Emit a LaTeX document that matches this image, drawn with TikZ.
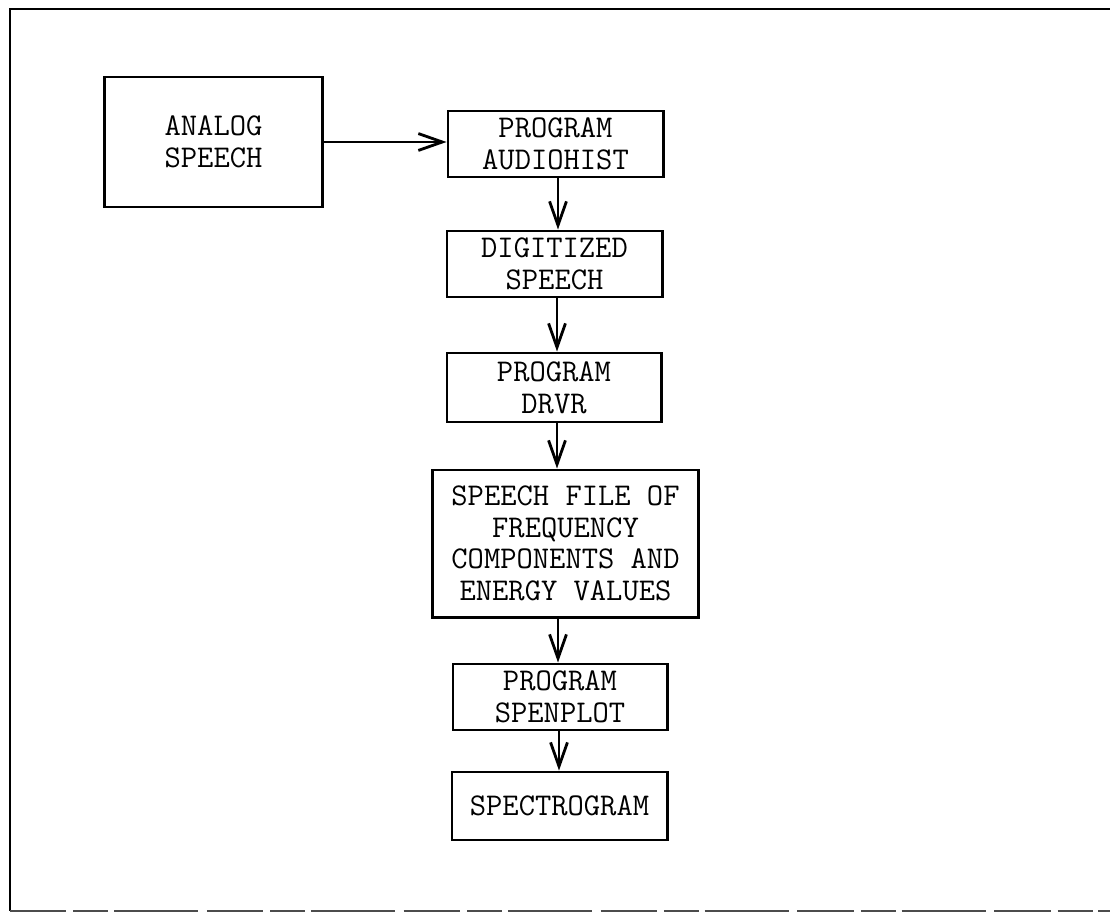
\documentclass[tikz,border=0pt]{standalone}
\usepackage{fontspec}
\usetikzlibrary{arrows.meta}
\tikzset{
    >={Straight Barb[length=17pt,width=12pt]}, % open typed arrow heads
    box/.style={draw, line width=2.1pt, align=center, inner sep=0pt,
        font=\ttfamily\fontsize{22.5}{22.5}\selectfont}, % every block of the chart
    flow/.style={->, line width=2pt}, % connectors between blocks
    frame/.style={line width=1.6pt}, % page border
}
\begin{document}
\begin{tikzpicture}[x=0.025cm, y=-0.025cm]
    \useasboundingbox (0,0) rectangle (1110,913);
    % border of the page
    \draw[frame] (1110,9) -- (10,9) -- (10,911);
    \draw[frame, black!70, dash pattern=on 40pt off 5pt on 25pt off 4pt on 60pt off 6pt] (10,911) -- (1110,911);
    % blocks
    \node[box, minimum width=5.425cm, minimum height=3.25cm] (analog) at (213.5,142) {ANALOG\\SPEECH};
    \node[box, minimum width=5.375cm, minimum height=1.65cm] (audio) at (555.5,144) {PROGRAM\\AUDIOHIST};
    \node[box, minimum width=5.375cm, minimum height=1.65cm] (digit) at (554.5,264) {DIGITIZED\\ SPEECH};
    \node[box, minimum width=5.35cm, minimum height=1.725cm] (drvr) at (554,387.5) {PROGRAM\\DRVR};
    \node[box, minimum width=6.625cm, minimum height=3.675cm] (file) at (565.5,543.5)
        {SPEECH FILE OF\\FREQUENCY\\COMPONENTS AND\\ENERGY VALUES};
    \node[box, minimum width=5.35cm, minimum height=1.65cm] (spen) at (560,697) {PROGRAM\\SPENPLOT};
    \node[box, minimum width=5.375cm, minimum height=1.7cm] (spect) at (559.5,806) {SPECTROGRAM};
    % connectors
    \draw[flow] (analog) -- (audio.west |- analog);
    \draw[flow] (audio.south -| 558,0) -- (digit.north -| 558,0);
    \draw[flow] (digit.south -| 557,0) -- (drvr.north -| 557,0);
    \draw[flow] (drvr.south -| 557,0) -- (file.north -| 557,0);
    \draw[flow] (file.south -| 558,0) -- (spen.north -| 558,0);
    \draw[flow] (spen.south -| 559,0) -- (spect.north -| 559,0);
\end{tikzpicture}
\end{document}
